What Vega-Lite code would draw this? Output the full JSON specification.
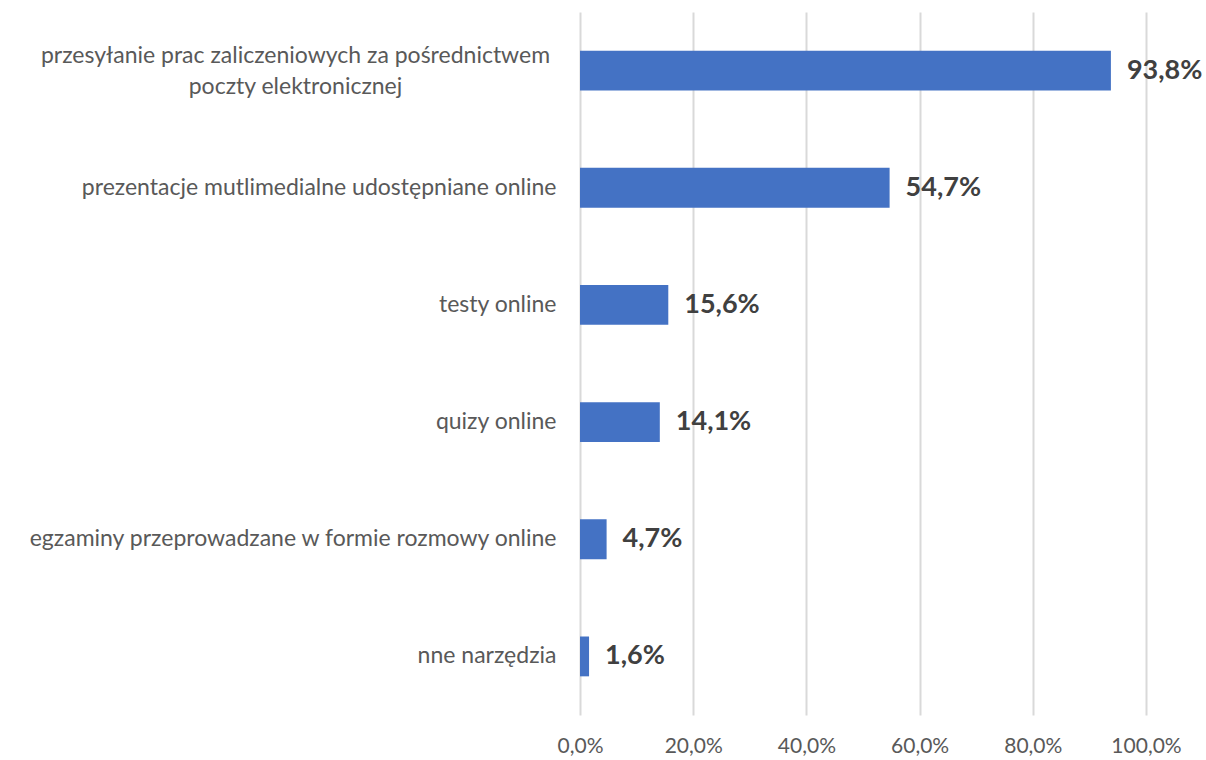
{
  "$schema": "https://vega.github.io/schema/vega-lite/v6.json",
  "width": 566,
  "height": 703,
  "autosize": {"type": "none"},
  "padding": {"left": 580, "top": 12, "right": 60, "bottom": 45},
  "background": "white",
  "config": {
    "locale": {"number": {"decimal": ",", "thousands": " ", "grouping": [3], "currency": ["", " zł"]}},
    "view": {"stroke": null},
    "font": "Lato"
  },
  "data": {
    "values": [
      {"kategoria": "przesyłanie prac zaliczeniowych za pośrednictwem poczty elektronicznej", "wartosc": 0.938},
      {"kategoria": "prezentacje mutlimedialne udostępniane online", "wartosc": 0.547},
      {"kategoria": "testy online", "wartosc": 0.156},
      {"kategoria": "quizy online", "wartosc": 0.141},
      {"kategoria": "egzaminy przeprowadzane w formie rozmowy online", "wartosc": 0.047},
      {"kategoria": "nne narzędzia", "wartosc": 0.016}
    ]
  },
  "encoding": {
    "y": {
      "field": "kategoria",
      "type": "nominal",
      "sort": null,
      "scale": {"paddingInner": 0.66, "paddingOuter": 0.33},
      "axis": {
        "title": null,
        "ticks": false,
        "domain": false,
        "labelFont": "Lato",
        "labelFontSize": 23,
        "labelColor": "#595959",
        "labelLimit": 600,
        "labelLineHeight": 31,
        "labelAlign": {"condition": {"test": "indexof(datum.value, 'przesyłanie') == 0", "value": "center"}, "value": "right"},
        "labelPadding": {"condition": {"test": "indexof(datum.value, 'przesyłanie') == 0", "value": 285}, "value": 24},
        "labelOffset": {"condition": {"test": "indexof(datum.value, 'przesyłanie') == 0", "value": -15}, "value": 0},
        "labelExpr": "indexof(datum.value, 'przesyłanie') == 0 ? ['przesyłanie prac zaliczeniowych za pośrednictwem', 'poczty elektronicznej'] : datum.value"
      }
    },
    "x": {
      "field": "wartosc",
      "type": "quantitative",
      "scale": {"domain": [0, 1], "nice": false},
      "axis": {
        "title": null,
        "format": ".1%",
        "values": [0, 0.2, 0.4, 0.6, 0.8, 1.0],
        "ticks": false,
        "domain": false,
        "grid": true,
        "gridColor": "#d9d9d9",
        "gridWidth": 2,
        "labelFlush": false,
        "labelFont": "Lato",
        "labelFontSize": 21,
        "labelColor": "#595959",
        "labelPadding": 20
      }
    }
  },
  "layer": [
    {"mark": {"type": "bar", "color": "#4472C4"}},
    {
      "mark": {"type": "text", "align": "left", "baseline": "middle", "dx": 16, "fontSize": 27, "fontWeight": "bold", "color": "#404040", "font": "Lato"},
      "encoding": {"text": {"field": "wartosc", "type": "quantitative", "format": ".1%"}}
    }
  ]
}
